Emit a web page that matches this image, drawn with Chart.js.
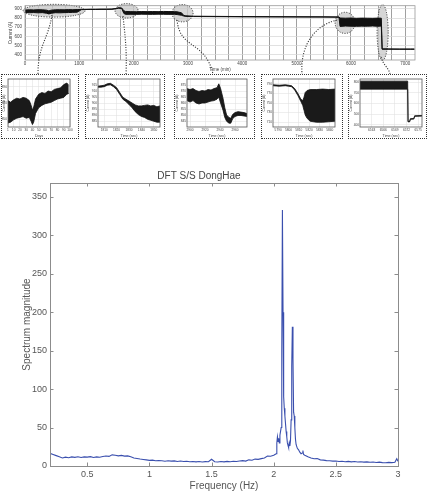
<!DOCTYPE html>
<html>
<head>
<meta charset="utf-8">
<script src="https://cdn.jsdelivr.net/npm/chart.js@4.4.1/dist/chart.umd.min.js"></script>
<style>
  body { margin: 0; background: #fff; }
  #page { position: relative; width: 428px; height: 499px; overflow: hidden; }
  .pane { position: absolute; }
  .inset { position: absolute; top: 74px; height: 65px; border: 1px dotted #333; box-sizing: border-box; }
  #links { position: absolute; left: 0; top: 0; pointer-events: none; }
</style>
</head>
<body>
<div id="page">
  <div class="pane" style="left:0;top:0"><canvas id="main" width="428" height="72"></canvas></div>
  <div class="inset" style="left:1px;width:78px"><canvas id="in1" width="76" height="63"></canvas></div>
  <div class="inset" style="left:85px;width:80px"><canvas id="in2" width="78" height="63"></canvas></div>
  <div class="inset" style="left:174px;width:81px"><canvas id="in3" width="79" height="63"></canvas></div>
  <div class="inset" style="left:261px;width:82px"><canvas id="in4" width="80" height="63"></canvas></div>
  <div class="inset" style="left:348px;width:79px"><canvas id="in5" width="77" height="63"></canvas></div>
  <svg id="links" width="428" height="80">
    <g fill="none" stroke="#333" stroke-width="1.1" stroke-dasharray="1.1 1.5">
      <path d="M52,15 C48,40 38,45 38,74"/>
      <path d="M123,16 C125,35 127,50 126,74"/>
      <path d="M177,20 C180,50 205,40 213,74"/>
      <path d="M337,20 C315,25 300,45 302,74"/>
      <path d="M381,57 C383,65 389,68 390,74"/>
    </g>
  </svg>
  <div class="pane" style="left:0;top:160px"><canvas id="dft" width="428" height="339"></canvas></div>
</div>
<script>
// ---- overview: current vs time (min), drawn as upper/lower envelope
const mainTime = [0, 80, 160, 240, 320, 400, 440, 480, 560, 640, 720, 800, 880, 960, 1040, 1100, 1200, 1300, 1400, 1500, 1600, 1680, 1720, 1780, 1820, 1850, 1950, 2050, 2150, 2250, 2350, 2450, 2550, 2650, 2750, 2800, 2880, 2920, 2960, 3100, 3500, 4000, 4500, 5000, 5500, 5780, 5800, 5900, 6000, 6100, 6200, 6300, 6400, 6500, 6560, 6575, 6700, 6900, 7100, 7170];
const mainHigh = [888, 890, 889, 891, 890, 886, 878, 886, 890, 891, 890, 892, 891, 893, 894, 895, 896, 896, 897, 897, 898, 905, 912, 910, 880, 872, 870, 869, 871, 870, 871, 870, 872, 871, 870, 868, 858, 830, 824, 820, 818, 816, 815, 814, 813, 812, 800, 798, 800, 797, 799, 798, 797, 799, 798, 462, 461, 460, 460, 460];
const mainLow = [862, 858, 860, 857, 859, 852, 845, 852, 858, 857, 859, 860, 862, 864, 892, 893, 894, 894, 895, 895, 896, 902, 908, 905, 850, 840, 841, 840, 842, 841, 840, 842, 841, 840, 841, 838, 830, 822, 818, 816, 815, 813, 812, 811, 810, 809, 708, 712, 710, 709, 711, 710, 712, 709, 712, 458, 459, 458, 458, 458];
const mainXTicks = [0, 1000, 2000, 3000, 4000, 5000, 6000, 7000];
const mainYTicks = [400, 500, 600, 700, 800, 900];

// zoomed regions marked on the overview (time centre/half width, current centre/half height)
const zoomRegions = [
  { t: 535, dt: 570, a: 880, da: 70 },
  { t: 1870, dt: 212, a: 879, da: 79 },
  { t: 2900, dt: 194, a: 853, da: 95 },
  { t: 5893, dt: 184, a: 747, da: 116 },
  { t: 6584, dt: 102, a: 642, da: 305 }
];

// ---- insets
const in1X = [1, 5, 10, 15, 20, 25, 30, 35, 38, 40, 42, 45, 50, 55, 60, 65, 70, 75, 80, 85, 90, 95, 98];
const in1High = [873, 871, 874, 876, 875, 877, 876, 873, 867, 861, 865, 875, 881, 883, 882, 885, 884, 887, 888, 889, 893, 895, 892];
const in1Low = [845, 846, 849, 851, 852, 853, 851, 852, 847, 843, 846, 857, 864, 867, 869, 870, 871, 873, 875, 876, 877, 881, 882];

const in2X = [1805, 1807.5, 1810, 1812.5, 1815, 1817.5, 1820, 1822.5, 1825, 1827.5, 1830, 1832.5, 1835, 1837.5, 1840, 1842.5, 1845, 1847.5, 1850, 1852.5, 1855];
const in2High = [914, 914.4, 914.8, 916, 916.4, 914.8, 912.8, 908.8, 904.8, 903.2, 901.6, 900, 898.4, 897.6, 897.6, 898, 898.4, 897.6, 898, 896.8, 897.6];
const in2Low = [913.2, 913.2, 913.6, 914.8, 915.2, 913.6, 911.2, 907.2, 903.2, 901.2, 898.8, 896, 892.8, 890.4, 888.8, 888, 886.4, 885.6, 884.8, 884, 884];

const in3X = [2896, 2900, 2904, 2908, 2912, 2916, 2920, 2924, 2928, 2932, 2936, 2938.4, 2940.8, 2944, 2946.4, 2948.8, 2952, 2954.4, 2956.8, 2960, 2964, 2968, 2972, 2976];
const in3High = [872, 871.2, 872, 870.4, 869.6, 870.4, 870, 871.2, 870.8, 872, 872.8, 876, 872, 864, 856, 850, 848, 847.2, 850.4, 852, 852.8, 852.4, 852, 851.2];
const in3Low = [862, 860.8, 862, 860, 859.2, 860, 860, 860.8, 861.6, 862, 863.2, 864.8, 860, 854, 848, 844.8, 843.2, 843.2, 846.8, 848.8, 849.6, 849.6, 849.2, 848.8];

const in4X = [5785, 5791, 5797, 5800, 5803, 5806, 5809, 5812, 5813.8, 5815, 5816.2, 5818, 5821, 5827, 5833, 5839, 5845];
const in4High = [788, 787, 788, 787, 786, 780, 770, 758, 755, 762, 772, 776, 778, 778, 779, 778, 779];
const in4Low = [786, 785, 786, 785, 784, 777, 766, 753, 745, 735, 725, 718, 712, 710, 710, 711, 712];

const in5X = [6560, 6572.3, 6572.4, 6572.8, 6573.0, 6573.9, 6574.1, 6576];
const in5High = [810, 810, 432, 432, 458, 460, 485, 488];
const in5Low = [735, 735, 428, 428, 452, 454, 480, 482];

// ---- DFT spectrum
const freq = [0.2, 0.225, 0.25, 0.275, 0.3, 0.325, 0.35, 0.375, 0.4, 0.425, 0.45, 0.475, 0.5, 0.525, 0.55, 0.575, 0.6, 0.625, 0.65, 0.675, 0.7, 0.725, 0.75, 0.775, 0.8, 0.825, 0.85, 0.875, 0.9, 0.925, 0.95, 0.975, 1.0, 1.025, 1.05, 1.075, 1.1, 1.125, 1.15, 1.175, 1.2, 1.225, 1.25, 1.275, 1.3, 1.325, 1.35, 1.375, 1.4, 1.425, 1.45, 1.475, 1.5, 1.525, 1.55, 1.575, 1.6, 1.625, 1.65, 1.675, 1.7, 1.725, 1.75, 1.775, 1.8, 1.825, 1.85, 1.875, 1.9, 1.925, 1.95, 1.975, 2.0,
  2.01, 2.02, 2.025, 2.03, 2.035, 2.04, 2.045, 2.05, 2.055, 2.06, 2.065, 2.07, 2.075, 2.08, 2.085, 2.09, 2.095, 2.1, 2.105, 2.11, 2.115, 2.12, 2.125, 2.13, 2.135, 2.14, 2.145, 2.15, 2.155, 2.16, 2.165, 2.17, 2.175, 2.18, 2.19, 2.2, 2.21, 2.22, 2.23, 2.235, 2.24, 2.25,
  2.275, 2.3, 2.325, 2.35, 2.375, 2.4, 2.425, 2.45, 2.475, 2.5, 2.525, 2.55, 2.575, 2.6, 2.625, 2.65, 2.675, 2.7, 2.725, 2.75, 2.775, 2.8, 2.825, 2.85, 2.875, 2.9, 2.925, 2.95, 2.975, 2.99, 3.0];
const magnitude = [16.5, 15, 13.5, 12, 10.5, 11.5, 10.8, 11.8, 11.2, 12, 11, 11.8, 11.5, 12.2, 11, 11.8, 11.4, 12.3, 13, 12.5, 14.5, 14, 13.2, 13.8, 12.8, 13.2, 12, 10.5, 9.8, 9, 8.5, 8, 7.3, 7.6, 6.8, 7.2, 6.8, 6.2, 6.9, 6.3, 6.6, 5.9, 6.4, 5.8, 6.2, 5.6, 5.9, 5.4, 5.8, 5.3, 5.7, 5.5, 8.8, 5.6, 5.2, 5.8, 5.4, 6, 5.5, 6.1, 5.8, 6.5, 7, 6.4, 8, 7.5, 9, 8.6, 9.6, 10.5, 13, 12.6, 14,
  15, 16, 30, 38, 32, 36, 30, 40, 45, 50, 150, 333, 200, 90, 75, 65, 55, 45, 38, 30, 27, 24, 30, 26, 33, 60, 130, 181, 140, 70, 65, 50, 35, 28, 23, 21, 18, 16, 17, 20, 15, 14,
  12, 10.5, 9.5, 9.8, 8, 7.6, 7, 6.8, 6.3, 6.5, 5.8, 6.2, 5.6, 6, 5.4, 5.8, 5.2, 5.6, 5, 5.4, 4.8, 5.2, 4.6, 5, 4.4, 4.3, 4.7, 4.4, 4.8, 9.5, 6];
const freqTicks = [0.5, 1, 1.5, 2, 2.5, 3];
const magTicks = [0, 50, 100, 150, 200, 250, 300, 350];

Chart.defaults.font.family = '"Liberation Sans", Arial, sans-serif';
Chart.defaults.animation = false;

const pts = (xs, ys) => xs.map((x, i) => ({ x: x, y: ys[i] }));
const fixTicks = list => axis => { axis.ticks = list.map(v => ({ value: v })); };

const frame = color => ({
  id: 'frame',
  afterDraw(chart) {
    const a = chart.chartArea, ctx = chart.ctx;
    ctx.save();
    ctx.strokeStyle = color;
    ctx.lineWidth = 0.8;
    ctx.strokeRect(a.left, a.top, a.width, a.height);
    ctx.restore();
  }
});

const ellipses = {
  id: 'ellipses',
  beforeDatasetsDraw(chart) {
    const { ctx, scales: { x, y } } = chart;
    ctx.save();
    zoomRegions.forEach(r => {
      const cx = x.getPixelForValue(r.t), cy = y.getPixelForValue(r.a);
      const rx = Math.abs(x.getPixelForValue(r.t + r.dt) - cx);
      const ry = Math.abs(y.getPixelForValue(r.a + r.da) - cy);
      ctx.beginPath();
      ctx.ellipse(cx, cy, rx, ry, 0, 0, Math.PI * 2);
      ctx.fillStyle = 'rgba(200,200,200,0.75)';
      ctx.fill();
      ctx.setLineDash([1.1, 1.5]);
      ctx.strokeStyle = '#333';
      ctx.lineWidth = 1;
      ctx.stroke();
    });
    ctx.restore();
  }
};

// overview chart
const gridSteps = [];
for (let v = 0; v <= 7000; v += 250) gridSteps.push(v);

new Chart(document.getElementById('main'), {
  type: 'line',
  data: {
    datasets: [
      { data: pts(mainTime, mainHigh), borderColor: '#111', borderWidth: 1, pointRadius: 0, fill: false },
      { data: pts(mainTime, mainLow), borderColor: '#111', borderWidth: 1, pointRadius: 0, backgroundColor: '#111', fill: '-1' }
    ]
  },
  options: {
    responsive: false,
    events: [],
    layout: { padding: { top: 3, right: 13, left: 0, bottom: 0 } },
    plugins: { legend: { display: false }, tooltip: { enabled: false } },
    scales: {
      x: {
        type: 'linear', min: 0, max: 7180,
        afterBuildTicks: fixTicks(gridSteps),
        afterFit: a => { a.height = 12; },
        grid: { color: '#777', lineWidth: 0.7, borderDash: [2, 2], drawTicks: false },
        border: { display: false },
        ticks: { font: { size: 4.5 }, color: '#444', padding: 1.5, maxRotation: 0, autoSkip: false,
          callback: v => mainXTicks.includes(v) ? String(v) : '' },
        title: { display: true, text: 'Time (min)', font: { size: 4.5 }, color: '#444', padding: 0 }
      },
      y: {
        min: 340, max: 935,
        afterBuildTicks: fixTicks(mainYTicks),
        afterFit: a => { a.width = 25; },
        grid: { color: '#d4d4d4', lineWidth: 0.7, drawTicks: false },
        border: { display: false },
        ticks: { font: { size: 4.5 }, color: '#444', padding: 3, callback: v => String(v) },
        title: { display: true, text: 'Current (A)', font: { size: 4.5 }, color: '#444', padding: { top: 8 } }
      }
    }
  },
  plugins: [ellipses, frame('#999')]
});

function inset(id, xs, hi, lo, o) {
  return new Chart(document.getElementById(id), {
    type: 'line',
    data: {
      datasets: [
        { data: pts(xs, hi), borderColor: '#111', borderWidth: 0.8, pointRadius: 0, fill: false },
        { data: pts(xs, lo), borderColor: '#111', borderWidth: 0.8, pointRadius: 0, backgroundColor: '#1a1a1a', fill: '-1' }
      ]
    },
    options: {
      responsive: false,
      events: [],
      layout: { padding: { top: 4, right: o.right, left: 0, bottom: 0 } },
      plugins: { legend: { display: false }, tooltip: { enabled: false } },
      scales: {
        x: {
          type: 'linear', min: o.xMin, max: o.xMax,
          afterBuildTicks: fixTicks(o.xTicks),
          afterFit: a => { a.height = 11; },
          grid: { color: '#ddd', lineWidth: 0.5, drawTicks: false },
          border: { display: false },
          ticks: { font: { size: 3.2 }, color: '#444', padding: 1.5, maxRotation: 0, autoSkip: false, callback: v => String(v) },
          title: { display: true, text: o.xTitle, font: { size: 3.6 }, color: '#444', padding: 0 }
        },
        y: {
          min: o.yMin, max: o.yMax,
          afterBuildTicks: fixTicks(o.yTicks),
          afterFit: a => { a.width = o.left; },
          grid: { color: '#ddd', lineWidth: 0.5, drawTicks: false },
          border: { display: false },
          ticks: { font: { size: 3.2 }, color: '#444', padding: 1, callback: v => String(v) },
          title: { display: true, text: 'Current (A)', font: { size: 3.4 }, color: '#444', padding: { top: 0 } }
        }
      }
    },
    plugins: [frame('#555')]
  });
}

inset('in1', in1X, in1High, in1Low, { left: 6, right: 8, xMin: 1, xMax: 100, xTicks: [1, 10, 20, 30, 40, 50, 60, 70, 80, 90, 100],
  yMin: 840, yMax: 900, yTicks: [850, 870, 890], xTitle: 'Days' });
inset('in2', in2X, in2High, in2Low, { left: 12, right: 4, xMin: 1805, xMax: 1855, xTicks: [1810, 1820, 1830, 1840, 1850],
  yMin: 880, yMax: 920, yTicks: [885, 890, 895, 900, 905, 910, 915], xTitle: 'Time (sec)' });
inset('in3', in3X, in3High, in3Low, { left: 12, right: 7, xMin: 2896, xMax: 2976, xTicks: [2900, 2920, 2940, 2960],
  yMin: 840, yMax: 880, yTicks: [845, 850, 855, 860, 865, 870, 875], xTitle: 'Time (sec)' });
inset('in4', in4X, in4High, in4Low, { left: 11, right: 7, xMin: 5785, xMax: 5845, xTicks: [5790, 5800, 5810, 5820, 5830, 5840],
  yMin: 700, yMax: 800, yTicks: [710, 730, 750, 770, 790], xTitle: 'Time (sec)' });
inset('in5', in5X, in5High, in5Low, { left: 11, right: 4, xMin: 6560, xMax: 6576, xTicks: [6563, 6566, 6569, 6572, 6575],
  yMin: 380, yMax: 830, yTicks: [400, 500, 600, 700, 800], xTitle: 'Time (sec)' });

// DFT chart with MATLAB-style box and inward ticks
const matlabAxes = {
  id: 'matlabAxes',
  afterDraw(chart) {
    const { ctx, chartArea: a, scales: { x, y } } = chart;
    ctx.save();
    ctx.strokeStyle = '#8c8c8c';
    ctx.lineWidth = 1;
    ctx.strokeRect(Math.round(a.left) + 0.5, Math.round(a.top) + 0.5, Math.round(a.width), Math.round(a.height));
    ctx.beginPath();
    x.ticks.forEach(t => {
      const p = Math.round(x.getPixelForValue(t.value)) + 0.5;
      ctx.moveTo(p, a.bottom); ctx.lineTo(p, a.bottom - 3.5);
      ctx.moveTo(p, a.top); ctx.lineTo(p, a.top + 3.5);
    });
    y.ticks.forEach(t => {
      const p = Math.round(y.getPixelForValue(t.value)) + 0.5;
      ctx.moveTo(a.left, p); ctx.lineTo(a.left + 3.5, p);
      ctx.moveTo(a.right, p); ctx.lineTo(a.right - 3.5, p);
    });
    ctx.stroke();
    ctx.restore();
  }
};

new Chart(document.getElementById('dft'), {
  type: 'line',
  data: {
    datasets: [{
      data: pts(freq, magnitude),
      borderColor: '#3a4fae',
      borderWidth: 1.1,
      pointRadius: 0,
      tension: 0,
      fill: false
    }]
  },
  options: {
    responsive: false,
    events: [],
    layout: { padding: { top: 0, right: 30, left: 0, bottom: 0 } },
    plugins: {
      legend: { display: false },
      tooltip: { enabled: false },
      title: { display: true, text: 'DFT S/S DongHae', color: '#444', font: { size: 10, weight: 'normal' }, padding: { top: 10, bottom: 1 } }
    },
    scales: {
      x: {
        type: 'linear', min: 0.2, max: 3,
        afterBuildTicks: fixTicks(freqTicks),
        afterFit: a => { a.height = 33; },
        grid: { display: false, drawTicks: false },
        border: { display: false },
        ticks: { font: { size: 9 }, color: '#555', padding: 3, maxRotation: 0, callback: v => String(v) },
        title: { display: true, text: 'Frequency (Hz)', font: { size: 10 }, color: '#555', padding: { bottom: 7 } }
      },
      y: {
        min: 0, max: 368,
        afterBuildTicks: fixTicks(magTicks),
        afterFit: a => { a.width = 50; },
        grid: { display: false, drawTicks: false },
        border: { display: false },
        ticks: { font: { size: 9 }, color: '#555', padding: 3, callback: v => String(v) },
        title: { display: true, text: 'Spectrum magnitude', font: { size: 10 }, color: '#555', padding: { top: 21 } }
      }
    }
  },
  plugins: [matlabAxes]
});
</script>
</body>
</html>
